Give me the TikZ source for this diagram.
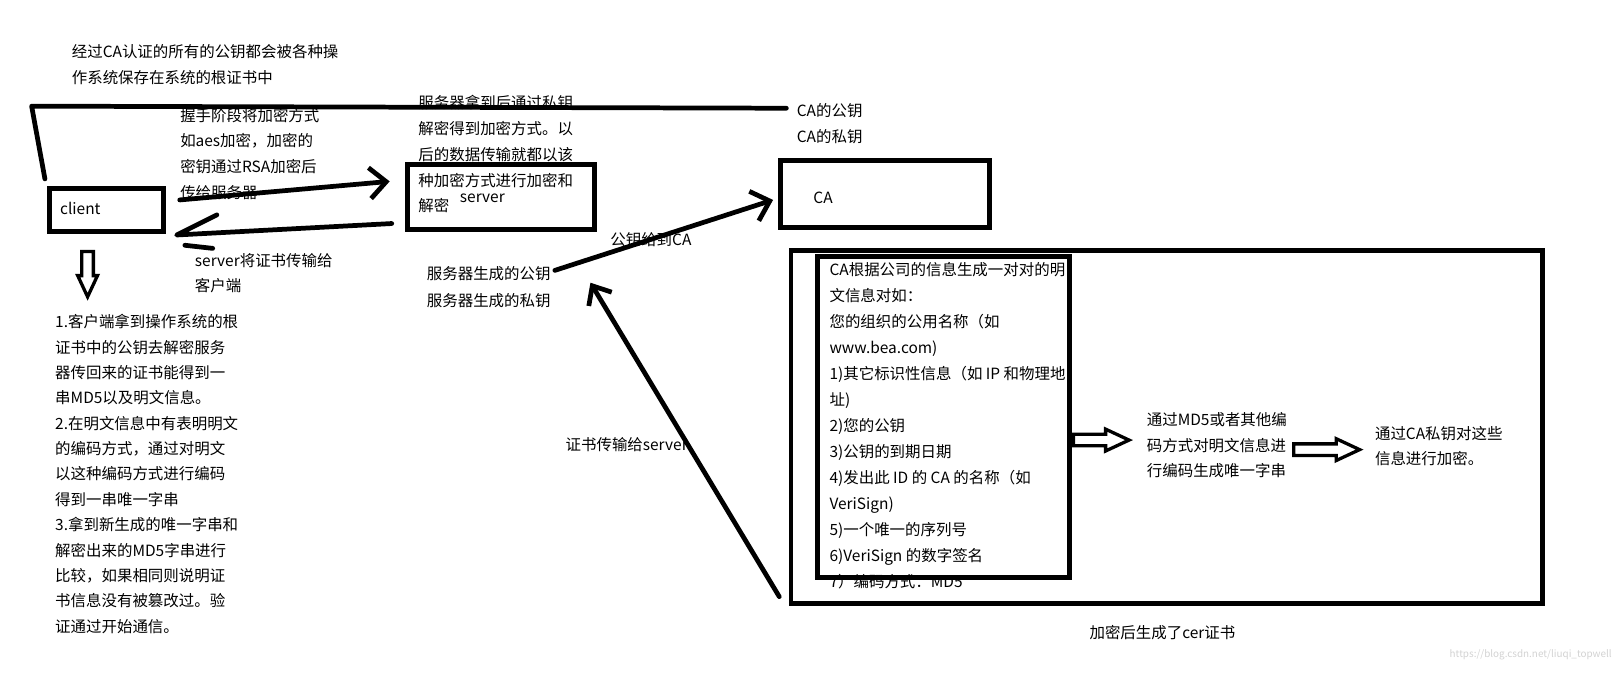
\documentclass[tikz,border=0pt]{standalone}
\usepackage{fontspec}
\setmainfont{Noto Sans CJK SC}
\usetikzlibrary{positioning,arrows.meta,calc,shapes.arrows}
\definecolor{inkBlack}{HTML}{000000}
\definecolor{markGray}{HTML}{D2D2D2}
\tikzset{
    pen/.style={draw=inkBlack,line width=4.6pt,line cap=round,line join=round},
    box/.style={draw=inkBlack,line width=4.8pt,inner sep=0pt},
    note/.style={inner sep=0pt,align=left,anchor=north west,
        font=\fontsize{15}{25}\selectfont},
    lbl/.style={inner sep=0pt,font=\fontsize{15}{25}\selectfont},
    barb/.style={-{Straight Barb[length=16pt,width=30pt]}},
    smallbarb/.style={-{Straight Barb[length=15pt,width=26pt]}},
    hollow/.style={single arrow,draw=inkBlack,line width=3.2pt,inner sep=4pt,
        single arrow head extend=5pt,single arrow tip angle=50}
}
\begin{document}
\begin{tikzpicture}[x=1pt,y=-1pt]
    \useasboundingbox (0,0) rectangle (1568,653);
    % free notes
    \node[note] (rootnote) at (69.5,43) {经过CA认证的所有的公钥都会被各种操\\作系统保存在系统的根证书中};
    \node[note] (handshake) at (174.7,104.6) {握手阶段将加密方式\\如aes加密，加密的\\密钥通过RSA加密后\\传给服务器};
    \node[note] (srvdecrypt) at (405.8,92.6) {服务器拿到后通过私钥\\解密得到加密方式。以\\后的数据传输就都以该\\种加密方式进行加密和\\解密};
    \node[note] (certnote) at (189,245.3) {server将证书传输给\\客户端};
    \node[note,font=\fontsize{15}{24.6}\selectfont] (verify) at (53.4,305) {1.客户端拿到操作系统的根\\证书中的公钥去解密服务\\器传回来的证书能得到一\\串MD5以及明文信息。\\2.在明文信息中有表明明文\\的编码方式，通过对明文\\以这种编码方式进行编码\\得到一串唯一字串\\3.拿到新生成的唯一字串和\\解密出来的MD5字串进行\\比较，如果相同则说明证\\书信息没有被篡改过。验\\证通过开始通信。};
    \node[note,font=\fontsize{15}{25.9}\selectfont] (srvkeys) at (414,258.2) {服务器生成的公钥\\服务器生成的私钥};
    \node[lbl,anchor=west] (capub) at (773,107.4) {CA的公钥};
    \node[lbl,anchor=west] (capriv) at (773,132.6) {CA的私钥};
    \node[note,font=\fontsize{15}{25.2}\selectfont] (fields) at (804.7,254.5) {CA根据公司的信息生成一对对的明\\文信息对如：\\您的组织的公用名称（如\\www.bea.com)\\1)其它标识性信息（如 IP 和物理地\\址)\\2)您的公钥\\3)公钥的到期日期\\4)发出此 ID 的 CA 的名称（如\\VeriSign)\\5)一个唯一的序列号\\6)VeriSign 的数字签名\\7）编码方式：MD5};
    \node[note,font=\fontsize{15}{24.9}\selectfont] (md5text) at (1112.6,399.9) {通过MD5或者其他编\\码方式对明文信息进\\行编码生成唯一字串};
    \node[note,font=\fontsize{15}{24.2}\selectfont] (casign) at (1334,413.5) {通过CA私钥对这些\\信息进行加密。};
    \node[lbl,anchor=west] (cernote) at (1057,614) {加密后生成了cer证书};
    \node[lbl,anchor=east,text=markGray,font=\fontsize{9.6}{10}\selectfont] (mark) at (1564,635) {https://blog.csdn.net/liuqi\_topwell};

    % boxes
    \node[box,minimum width=111pt,minimum height=42pt] (client) at (103.5,204) {};
    \node[lbl,anchor=west] (clientname) at ([xshift=12.6pt,yshift=2pt]client.west) {client};
    \node[box,minimum width=181pt,minimum height=63pt] (server) at (486,191) {};
    \node[lbl,anchor=west] (servername) at ([xshift=53pt,yshift=-1.4pt]server.west) {server};
    \node[box,minimum width=203pt,minimum height=65pt] (ca) at (859,188) {};
    \node[lbl,anchor=west] (caname) at ([xshift=34pt,yshift=-3.5pt]ca.west) {CA};
    \node[box,minimum width=729pt,minimum height=342pt] (outer) at (1132,414.5) {};
    \node[box,minimum width=244pt,minimum height=312pt] (inner) at (915.5,404.5) {};

    % connectors
    \coordinate (rootbend) at (30.7,103);
    \draw[pen] ([xshift=-2pt,yshift=7pt]client.north west) -- (rootbend) -- ([xshift=-10pt,yshift=2.4pt]capub.west);
    \draw[pen,barb] ([xshift=13pt,yshift=10pt]client.east) -- ([xshift=-15pt,yshift=15pt]server.west);
    \draw[pen] ([xshift=-13pt,yshift=8pt]server.south west) -- ([xshift=10pt,yshift=-24pt]client.east) -- ++(39,-19.5);
    \draw[pen] ([xshift=18pt,yshift=-34pt]client.east) -- ++(27,3);
    \draw[pen,barb] ([xshift=4pt,yshift=16pt]srvkeys.east) -- node[lbl,pos=0.44] (tocalabel) {公钥给到CA} ([xshift=-5pt,yshift=-6pt]ca.west);
    \draw[pen,smallbarb] ([xshift=-9pt,yshift=9pt]outer.south west) -- node[lbl,pos=0.483,anchor=east,xshift=2pt] (tosrvlabel) {证书传输给server} ([xshift=38.5pt,yshift=4pt]srvkeys.east);

    % hollow arrows
    \node[hollow,minimum height=44pt,single arrow head extend=4pt,rotate=-90,anchor=tail] (verifyarrow) at ([xshift=-18.5pt,yshift=-15pt]client.south) {};
    \node[hollow,minimum height=54pt,anchor=tail] (encodearrow) at ([yshift=-22.5pt]inner.east) {};
    \node[hollow,minimum height=64pt,anchor=tip] (signarrow) at ([xshift=-11pt,yshift=-3.5pt]casign.west) {};
\end{tikzpicture}
\end{document}
